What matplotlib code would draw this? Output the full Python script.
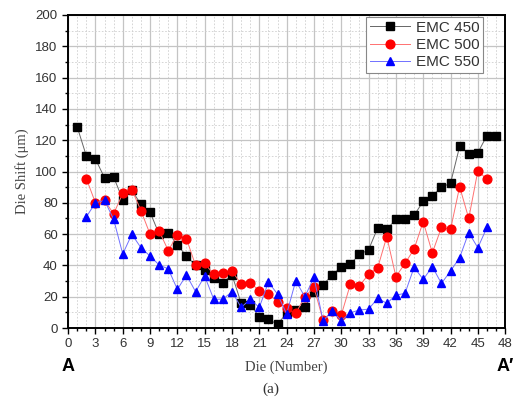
import numpy as np
import matplotlib
matplotlib.use('Agg')
import matplotlib.pyplot as plt
from matplotlib.ticker import MultipleLocator

# Die shift readings (um) along the A-A' line
die_450 = list(range(1, 48))
emc_450 = [128.5, 110, 108, 96, 96.5, 82, 88, 79, 74, 60,
           61, 53, 46, 40, 37, 32, 29, 34, 16, 15,
           7, 5.5, 2.5, 9.5, 11.5, 13.5, 23, 27.5, 34, 39,
           41, 47, 50, 64, 63, 69.5, 69.5, 72, 81, 84.5,
           90, 92.5, 116, 111.5, 112, 123, 123]

die_500 = list(range(2, 47))
emc_500 = [95.5, 80, 81.5, 73, 86, 88.5, 75, 60, 62, 49.5,
           59.5, 57, 40, 41.3, 34.3, 35, 36.5, 28, 29, 23.8,
           21.7, 16.8, 12.6, 9.4, 20, 26, 5, 10.9, 8.3, 28,
           27, 34.3, 38.5, 58.4, 32.8, 41.3, 50.5, 68, 48, 64.3,
           63, 90.3, 70, 100.5, 95]

die_550 = list(range(2, 47))
emc_550 = [71, 80, 81.5, 69.5, 47.3, 59.9, 51.3, 46, 40.3, 37.8,
           24.7, 33.9, 23.2, 33.2, 18.3, 18.5, 23.2, 13.2, 18.3, 13.2,
           29.3, 21.7, 9, 30.2, 20, 32.4, 4.7, 10.9, 4.7, 9.8,
           11.5, 12.1, 19, 15.8, 21, 22.2, 38.8, 31.1, 39.2, 28.5,
           36.4, 45, 61, 51.3, 64.3]

series = [
    ('EMC 450', die_450, emc_450, 's', 'black', '#666666'),
    ('EMC 500', die_500, emc_500, 'o', 'red', '#ff7070'),
    ('EMC 550', die_550, emc_550, '^', 'blue', '#7070ff'),
]

fig = plt.figure(figsize=(5.16, 4.05), dpi=100)
ax = fig.add_axes([0.132, 0.190, 0.847, 0.773])

for name, xs, ys, mk, mc, lc in series:
    ax.plot(xs, ys, color=lc, lw=0.7, marker=mk, ms=6.3,
            markerfacecolor=mc, markeredgecolor=mc, label=name, zorder=3)

ax.set_xlim(0, 48)
ax.set_ylim(0, 200)
ax.xaxis.set_major_locator(MultipleLocator(3))
ax.xaxis.set_minor_locator(MultipleLocator(1))
ax.yaxis.set_major_locator(MultipleLocator(20))
ax.yaxis.set_minor_locator(MultipleLocator(10))

ax.grid(which='major', color='#c4c4c4', lw=0.9, ls='-', zorder=0)
ax.grid(which='minor', color='#cfcfcf', lw=0.6, ls=(0, (2, 2)), zorder=0)
ax.set_axisbelow(True)

ax.tick_params(which='major', direction='out', length=4, width=1,
               labelsize=9.5, labelcolor='#333333', top=False, right=False)
ax.tick_params(which='minor', direction='out', length=2.5, width=1,
               top=False, right=False)
for sp in ax.spines.values():
    sp.set_linewidth(1.4)

ax.set_xlabel('Die (Number)', family='Liberation Serif', fontsize=10.5,
              color='#444444', labelpad=7)
ax.set_ylabel('Die Shift (\u03bcm)', family='Liberation Serif', fontsize=10.5,
              color='#444444', labelpad=5)

for lab in ax.get_xticklabels() + ax.get_yticklabels():
    lab.set_family('Liberation Sans')

ax.text(0, -0.122, 'A', transform=ax.get_xaxis_transform(), ha='center',
        va='center', fontsize=13, fontweight='bold', family='Liberation Sans')
ax.text(48, -0.122, 'A\u2032', transform=ax.get_xaxis_transform(), ha='center',
        va='center', fontsize=13, fontweight='bold', family='Liberation Sans')

fig.text(0.525, 0.038, '(a)', ha='center', va='center',
         family='Liberation Serif', fontsize=11, color='#333333')

leg = ax.legend(loc='upper left', bbox_to_anchor=(0.682, 0.994),
                borderaxespad=0, fancybox=False, framealpha=1,
                edgecolor='#888888', prop={'family': 'Liberation Sans', 'size': 11},
                handlelength=2.6, handletextpad=0.4, borderpad=0.25,
                labelspacing=0.22)
for t in leg.get_texts():
    t.set_color('#333333')
leg.get_frame().set_linewidth(0.8)

fig.savefig('out.png', dpi=100)
